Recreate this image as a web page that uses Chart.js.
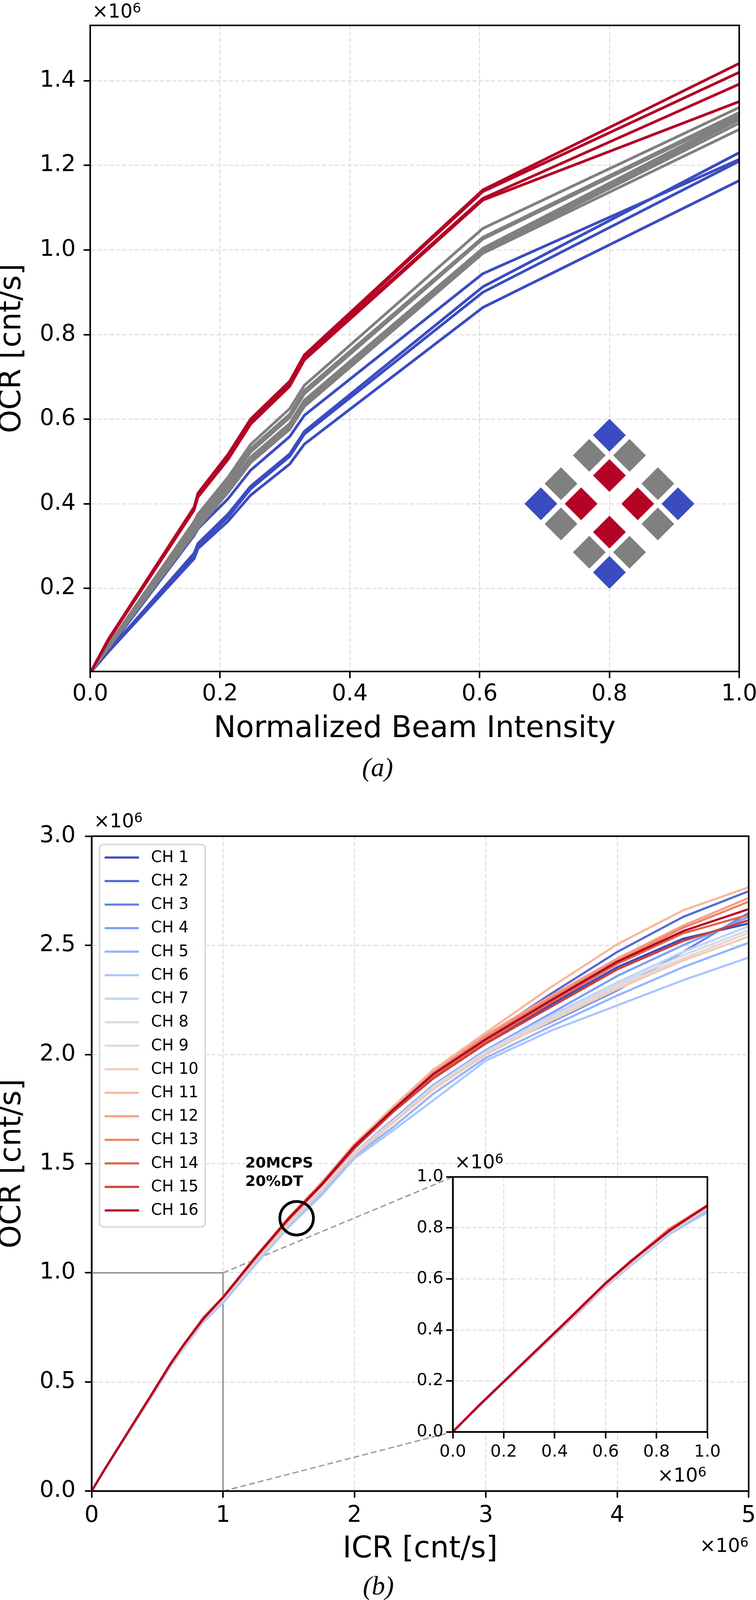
<!DOCTYPE html>
<html>
<head>
<meta charset="utf-8">
<title>OCR vs beam intensity and ICR</title>
<script src="https://cdn.jsdelivr.net/npm/chart.js@4.4.1/dist/chart.umd.min.js"></script>
<style>
  html, body { margin:0; padding:0; background:#fff; }
  body { position:relative; width:1936px; height:4100px; overflow:hidden; }
  .panel { position:absolute; }
  .panel canvas { display:block; }
  .offset { position:absolute; font-family:"DejaVu Sans"; font-size:49px; line-height:1; color:#000; white-space:nowrap; z-index:5; }
  .offset sup { font-size:0.7em; position:relative; top:-0.38em; vertical-align:baseline; line-height:0; }
  .caption { position:absolute; font-family:"Liberation Serif"; font-style:italic; font-size:68px; line-height:1; width:200px; text-align:center; color:#000; }
</style>
</head>
<body>
<div class="panel" style="left:0;top:0;"><canvas id="chartA" width="1936" height="2000"></canvas></div>
<div class="panel" style="left:0;top:2000px;"><canvas id="chartB" width="1936" height="2100"></canvas></div>
<div class="panel" style="left:1000px;top:2940px;"><canvas id="chartC" width="936" height="880"></canvas></div>

<div class="offset" style="left:236px;top:4px;">×10<sup>6</sup></div>
<div class="caption" style="left:867px;top:1930px;">(a)</div>
<div class="offset" style="left:240px;top:2077px;">×10<sup>6</sup></div>
<div class="offset" style="right:19px;top:3932px;">×10<sup>6</sup></div>
<div class="offset" style="left:1164px;top:2950px;">×10<sup>6</sup></div>
<div class="offset" style="right:127px;top:3752px;">×10<sup>6</sup></div>
<div class="caption" style="left:869px;top:4025px;">(b)</div>

<script>
// ================= DATA: panel (a) — OCR (×10^6 cnt/s) vs normalized beam intensity =================
const beamIntensity = [0, 0.028, 0.16, 0.166, 0.2125, 0.247, 0.3075, 0.33, 0.605, 1.0];
// inner (red) detector elements
const ocrInner = [
  [0, 0.080, 0.392, 0.425, 0.517, 0.600, 0.690, 0.752, 1.142, 1.441],
  [0, 0.079, 0.390, 0.422, 0.513, 0.596, 0.686, 0.748, 1.138, 1.420],
  [0, 0.078, 0.387, 0.419, 0.509, 0.592, 0.682, 0.744, 1.122, 1.392],
  [0, 0.077, 0.385, 0.416, 0.505, 0.588, 0.678, 0.740, 1.118, 1.351]
];
// edge (gray) detector elements
const ocrEdge = [
  [0, 0.066, 0.358, 0.375, 0.463, 0.540, 0.625, 0.680, 1.051, 1.337],
  [0, 0.065, 0.352, 0.368, 0.455, 0.530, 0.612, 0.668, 1.030, 1.325],
  [0, 0.064, 0.347, 0.362, 0.447, 0.522, 0.604, 0.660, 1.026, 1.320],
  [0, 0.063, 0.342, 0.356, 0.438, 0.510, 0.590, 0.645, 1.004, 1.316],
  [0, 0.062, 0.338, 0.352, 0.434, 0.506, 0.585, 0.640, 1.001, 1.312],
  [0, 0.061, 0.335, 0.349, 0.432, 0.503, 0.582, 0.637, 0.998, 1.308],
  [0, 0.060, 0.332, 0.346, 0.430, 0.500, 0.580, 0.634, 0.995, 1.300],
  [0, 0.059, 0.329, 0.343, 0.427, 0.497, 0.576, 0.630, 0.992, 1.285]
];
// corner (blue) detector elements
const ocrCorner = [
  [0, 0.056, 0.325, 0.341, 0.412, 0.479, 0.559, 0.609, 0.944, 1.214],
  [0, 0.052, 0.283, 0.306, 0.376, 0.441, 0.518, 0.571, 0.913, 1.230],
  [0, 0.051, 0.278, 0.300, 0.369, 0.435, 0.512, 0.565, 0.900, 1.210],
  [0, 0.050, 0.270, 0.294, 0.359, 0.420, 0.494, 0.541, 0.864, 1.164]
];
const xTicksA = [0, 0.2, 0.4, 0.6, 0.8, 1.0];
const xTickLabelsA = ['0.0', '0.2', '0.4', '0.6', '0.8', '1.0'];
const yTicksA = [0.2, 0.4, 0.6, 0.8, 1.0, 1.2, 1.4];
const yTickLabelsA = ['0.2', '0.4', '0.6', '0.8', '1.0', '1.2', '1.4'];
const detectorCenter = { x: 0.8, y: 0.4 };   // position of the detector-layout sketch

// ================= DATA: panel (b) — OCR vs ICR (both ×10^6 cnt/s) per channel =================
const channelLabels = ['CH 1','CH 2','CH 3','CH 4','CH 5','CH 6','CH 7','CH 8',
                       'CH 9','CH 10','CH 11','CH 12','CH 13','CH 14','CH 15','CH 16'];
const icrB = [0, 0.1, 0.2, 0.3, 0.45, 0.6, 0.7, 0.85, 1.0, 1.25, 1.5, 1.75, 2.0, 2.3, 2.6, 3.0, 3.5, 4.0, 4.5, 5.0];
const ocrCh1  = [0, 0.100, 0.196, 0.292, 0.436, 0.582, 0.668, 0.792, 0.887, 1.070, 1.245, 1.400, 1.570, 1.745, 1.905, 2.055, 2.230, 2.400, 2.530, 2.600];
const ocrCh2  = [0, 0.101, 0.197, 0.293, 0.437, 0.584, 0.670, 0.795, 0.889, 1.075, 1.250, 1.405, 1.585, 1.760, 1.930, 2.080, 2.280, 2.470, 2.630, 2.748];
const ocrCh3  = [0, 0.099, 0.194, 0.289, 0.430, 0.576, 0.660, 0.784, 0.878, 1.055, 1.225, 1.375, 1.550, 1.700, 1.850, 2.010, 2.150, 2.294, 2.470, 2.649];
const ocrCh4  = [0, 0.099, 0.194, 0.288, 0.431, 0.577, 0.661, 0.786, 0.879, 1.057, 1.227, 1.378, 1.550, 1.705, 1.860, 2.020, 2.190, 2.360, 2.500, 2.630];
const ocrCh5  = [0, 0.098, 0.193, 0.287, 0.428, 0.572, 0.656, 0.779, 0.870, 1.045, 1.215, 1.362, 1.535, 1.670, 1.820, 1.985, 2.130, 2.270, 2.400, 2.512];
const ocrCh6  = [0, 0.098, 0.192, 0.286, 0.426, 0.570, 0.653, 0.775, 0.862, 1.040, 1.210, 1.355, 1.524, 1.655, 1.790, 1.972, 2.110, 2.225, 2.340, 2.444];
const ocrCh7  = [0, 0.099, 0.194, 0.289, 0.431, 0.576, 0.661, 0.785, 0.878, 1.056, 1.226, 1.376, 1.550, 1.700, 1.855, 2.015, 2.180, 2.330, 2.470, 2.587];
const ocrCh8  = [0, 0.099, 0.194, 0.289, 0.430, 0.575, 0.660, 0.784, 0.876, 1.054, 1.224, 1.374, 1.545, 1.695, 1.850, 2.010, 2.170, 2.320, 2.455, 2.570];
const ocrCh9  = [0, 0.099, 0.194, 0.289, 0.431, 0.576, 0.661, 0.785, 0.877, 1.055, 1.225, 1.375, 1.545, 1.695, 1.845, 2.000, 2.160, 2.310, 2.440, 2.557];
const ocrCh10 = [0, 0.100, 0.195, 0.290, 0.432, 0.578, 0.663, 0.788, 0.880, 1.058, 1.230, 1.380, 1.540, 1.690, 1.840, 2.000, 2.155, 2.300, 2.430, 2.540];
const ocrCh11 = [0, 0.101, 0.197, 0.294, 0.438, 0.585, 0.672, 0.797, 0.890, 1.078, 1.255, 1.415, 1.590, 1.765, 1.930, 2.100, 2.310, 2.505, 2.660, 2.766];
const ocrCh12 = [0, 0.101, 0.197, 0.293, 0.437, 0.584, 0.671, 0.796, 0.889, 1.076, 1.252, 1.410, 1.580, 1.755, 1.920, 2.090, 2.270, 2.440, 2.590, 2.717];
const ocrCh13 = [0, 0.101, 0.197, 0.293, 0.437, 0.583, 0.670, 0.794, 0.888, 1.074, 1.250, 1.408, 1.585, 1.752, 1.915, 2.080, 2.260, 2.430, 2.580, 2.700];
const ocrCh14 = [0, 0.100, 0.196, 0.292, 0.436, 0.582, 0.669, 0.793, 0.887, 1.072, 1.248, 1.405, 1.575, 1.748, 1.900, 2.060, 2.240, 2.415, 2.555, 2.640];
const ocrCh15 = [0, 0.100, 0.196, 0.292, 0.435, 0.581, 0.668, 0.791, 0.886, 1.070, 1.245, 1.400, 1.570, 1.740, 1.890, 2.050, 2.220, 2.390, 2.520, 2.615];
const ocrCh16 = [0, 0.101, 0.197, 0.293, 0.437, 0.583, 0.670, 0.788, 0.888, 1.073, 1.250, 1.405, 1.580, 1.750, 1.910, 2.070, 2.250, 2.425, 2.565, 2.666];
const ocrChannels = [ocrCh1, ocrCh2, ocrCh3, ocrCh4, ocrCh5, ocrCh6, ocrCh7, ocrCh8,
                     ocrCh9, ocrCh10, ocrCh11, ocrCh12, ocrCh13, ocrCh14, ocrCh15, ocrCh16];
const xTicksB = [0, 1, 2, 3, 4, 5];
const xTickLabelsB = ['0', '1', '2', '3', '4', '5'];
const yTicksB = [0, 0.5, 1.0, 1.5, 2.0, 2.5, 3.0];
const yTickLabelsB = ['0.0', '0.5', '1.0', '1.5', '2.0', '2.5', '3.0'];
const insetTicks = [0, 0.2, 0.4, 0.6, 0.8, 1.0];
const insetTickLabels = ['0.0', '0.2', '0.4', '0.6', '0.8', '1.0'];
const dtMarker = { icr: 1.56, ocr: 1.25, text: ['20MCPS', '20%DT'] };

// ================= STYLE =================
const RED = '#b40426', GRAY = '#808080', BLUE = '#3b4cc0';
const channelColors = ['#3b4cc0','#4f69d9','#6485ec','#7b9ff9','#93b5fe','#aac7fd','#c0d4f5','#d4dbe6',
                       '#e5d8d1','#f2cbb7','#f7b89c','#f5a081','#ee8468','#e0654f','#cc403a','#b40426'];
const FONT = '"DejaVu Sans", sans-serif';
Chart.defaults.font.family = FONT;
Chart.defaults.color = '#000';

function makeScale(cfg) {
  const horizontal = cfg.axis === 'x';
  const s = {
    type: 'linear',
    position: horizontal ? 'bottom' : 'left',
    min: cfg.min, max: cfg.max,
    afterBuildTicks: sc => { sc.ticks = cfg.ticks.map(v => ({ value: v })); },
    afterFit: sc => {
      if (horizontal) { sc.height = cfg.size; sc.paddingLeft = 0; sc.paddingRight = 0; }
      else { sc.width = cfg.size; sc.paddingTop = 0; sc.paddingBottom = 0; }
    },
    ticks: {
      callback: (v, i) => cfg.labels[i],
      font: { size: cfg.tickFont, lineHeight: 1.2 },
      color: '#000', padding: cfg.pad, autoSkip: false, maxRotation: 0, minRotation: 0
    },
    grid: { color: '#d4d4d4', lineWidth: 2, tickLength: 17, tickWidth: 4, tickColor: '#000', drawTicks: true },
    border: { display: true, color: '#000', width: 4, dash: [11, 5] }
  };
  if (cfg.title) {
    s.title = {
      display: true, text: cfg.title, color: '#000',
      font: { size: 76, lineHeight: horizontal ? 1.2 : 0.8 },
      padding: horizontal ? { top: 0, bottom: cfg.titlePad } : { top: cfg.titlePad, bottom: 0 }
    };
  }
  return s;
}

const framePlugin = {
  id: 'frame',
  afterDatasetsDraw(chart) {
    const { ctx, chartArea: ca } = chart;
    ctx.save();
    ctx.strokeStyle = '#000'; ctx.lineWidth = 4;
    ctx.strokeRect(ca.left, ca.top, ca.right - ca.left, ca.bottom - ca.top);
    ctx.restore();
  }
};

const baseOptions = {
  responsive: false, animation: false, devicePixelRatio: 1, events: [],
  plugins: { legend: { display: false }, tooltip: { enabled: false } }
};

// ================= INSET (created first so panel (b) can connect to it) =================
const whiteAreaPlugin = {
  id: 'whiteArea',
  beforeDraw(chart) {
    const { ctx, chartArea: ca } = chart;
    ctx.save(); ctx.fillStyle = '#fff';
    ctx.fillRect(ca.left, ca.top, ca.right - ca.left, ca.bottom - ca.top);
    ctx.restore();
  }
};

function channelDatasets(width) {
  return channelLabels.map((lab, i) => ({
    label: lab,
    data: icrB.map((x, k) => ({ x: x, y: ocrChannels[i][k] })),
    borderColor: channelColors[i], backgroundColor: channelColors[i],
    borderWidth: width, pointRadius: 0, showLine: true, tension: 0,
    borderJoinStyle: 'round', borderCapStyle: 'round',
    order: channelLabels.length - 1 - i
  }));
}

window.insetChart = new Chart(document.getElementById('chartC'), {
  type: 'scatter',
  data: { datasets: channelDatasets(5.5) },
  options: Object.assign({}, baseOptions, {
    layout: { padding: { top: 73, right: 124.5, left: 0, bottom: 0 } },
    scales: {
      x: makeScale({ axis: 'x', min: 0, max: 1, ticks: insetTicks, labels: insetTickLabels, size: 154.5, tickFont: 43, pad: 10 }),
      y: makeScale({ axis: 'y', min: 0, max: 1, ticks: insetTicks, labels: insetTickLabels, size: 159.5, tickFont: 43, pad: 7 })
    }
  }),
  plugins: [whiteAreaPlugin, framePlugin]
});

// ================= PANEL (a) =================
const diamondPlugin = {
  id: 'detectorSketch',
  afterDatasetsDraw(chart) {
    const { ctx, scales: { x, y } } = chart;
    const cx = x.getPixelForValue(detectorCenter.x), cy = y.getPixelForValue(detectorCenter.y);
    const Q = 124, s = 51.5, r = 42;
    const dirs = [[0, -1], [1, 0], [0, 1], [-1, 0]];
    const dia = (px, py, col) => {
      ctx.fillStyle = col; ctx.beginPath();
      ctx.moveTo(px, py - r); ctx.lineTo(px + r, py); ctx.lineTo(px, py + r); ctx.lineTo(px - r, py);
      ctx.closePath(); ctx.fill();
    };
    ctx.save();
    dirs.forEach(([dx, dy]) => {
      const qx = cx + dx * Q, qy = cy + dy * Q;
      dia(qx + dx * s, qy + dy * s, BLUE);
      dia(qx - dx * s, qy - dy * s, RED);
      dia(qx - dy * s, qy + dx * s, GRAY);
      dia(qx + dy * s, qy - dx * s, GRAY);
    });
    ctx.restore();
  }
};

function groupDatasets(group, color) {
  return group.map(arr => ({
    data: beamIntensity.map((x, k) => ({ x: x, y: arr[k] })),
    borderColor: color, backgroundColor: color, borderWidth: 7,
    pointRadius: 0, showLine: true, tension: 0, borderJoinStyle: 'round', borderCapStyle: 'round'
  }));
}

new Chart(document.getElementById('chartA'), {
  type: 'scatter',
  data: { datasets: [].concat(groupDatasets(ocrInner, RED), groupDatasets(ocrEdge, GRAY), groupDatasets(ocrCorner, BLUE)) },
  options: Object.assign({}, baseOptions, {
    layout: { padding: { top: 65, right: 43, left: 0, bottom: 0 } },
    scales: {
      x: makeScale({ axis: 'x', min: 0, max: 1, ticks: xTicksA, labels: xTickLabelsA, size: 281, tickFont: 58, pad: 7,
                     title: 'Normalized Beam Intensity', titlePad: 87 }),
      y: makeScale({ axis: 'y', min: 0.0035, max: 1.531, ticks: yTicksA, labels: yTickLabelsA, size: 231, tickFont: 58, pad: 20,
                     title: 'OCR [cnt/s]', titlePad: 2 })
    }
  }),
  plugins: [framePlugin, diamondPlugin]
});

// ================= PANEL (b) =================
const zoomBoxPlugin = {
  id: 'zoomBox',
  beforeDatasetsDraw(chart) {
    const ins = window.insetChart; if (!ins) return;
    const { ctx, scales: { x, y } } = chart;
    const x0 = x.getPixelForValue(ins.scales.x.min), x1 = x.getPixelForValue(ins.scales.x.max);
    const y0 = y.getPixelForValue(ins.scales.y.min), y1 = y.getPixelForValue(ins.scales.y.max);
    const rb = chart.canvas.getBoundingClientRect(), ri = ins.canvas.getBoundingClientRect();
    const ox = ri.left - rb.left, oy = ri.top - rb.top, ia = ins.chartArea;
    ctx.save();
    ctx.strokeStyle = '#8c8c8c'; ctx.lineWidth = 3.5;
    ctx.beginPath(); ctx.moveTo(x0, y1); ctx.lineTo(x1, y1); ctx.lineTo(x1, y0); ctx.stroke();
    ctx.strokeStyle = '#9a9a9a'; ctx.lineWidth = 3.5; ctx.setLineDash([15, 8]);
    ctx.beginPath();
    ctx.moveTo(x1, y1); ctx.lineTo(ox + ia.left, oy + ia.top);
    ctx.moveTo(x1, y0); ctx.lineTo(ox + ia.left, oy + ia.bottom);
    ctx.stroke();
    ctx.restore();
  }
};

const markerPlugin = {
  id: 'dtMarker',
  afterDatasetsDraw(chart) {
    const { ctx, scales: { x, y } } = chart;
    const px = x.getPixelForValue(dtMarker.icr), py = y.getPixelForValue(dtMarker.ocr);
    ctx.save();
    ctx.strokeStyle = '#000'; ctx.lineWidth = 7;
    ctx.beginPath(); ctx.arc(px, py, 43, 0, Math.PI * 2); ctx.stroke();
    ctx.fillStyle = '#000'; ctx.font = 'bold 38px ' + FONT;
    ctx.textAlign = 'left'; ctx.textBaseline = 'alphabetic';
    ctx.fillText(dtMarker.text[0], px - 131.5, py - 129.7);
    ctx.fillText(dtMarker.text[1], px - 131.5, py - 83);
    ctx.restore();
  }
};

const insideLegendPlugin = {
  id: 'insideLegend',
  afterDatasetsDraw(chart) {
    const { ctx, chartArea: ca } = chart;
    const L = ca.left + 20.4, T = ca.top + 21.4, W = 270.5, H = 979, R = 10;
    ctx.save();
    ctx.beginPath();
    ctx.moveTo(L + R, T); ctx.lineTo(L + W - R, T); ctx.arcTo(L + W, T, L + W, T + R, R);
    ctx.lineTo(L + W, T + H - R); ctx.arcTo(L + W, T + H, L + W - R, T + H, R);
    ctx.lineTo(L + R, T + H); ctx.arcTo(L, T + H, L, T + H - R, R);
    ctx.lineTo(L, T + R); ctx.arcTo(L, T, L + R, T, R); ctx.closePath();
    ctx.fillStyle = 'rgba(255,255,255,0.8)'; ctx.fill();
    ctx.strokeStyle = '#d6d6d6'; ctx.lineWidth = 3.5; ctx.stroke();
    ctx.font = '40px ' + FONT; ctx.textAlign = 'left'; ctx.textBaseline = 'middle';
    chart.data.datasets.forEach((d, i) => {
      const yy = ca.top + 54.6 + i * 60.24;
      ctx.strokeStyle = d.borderColor; ctx.lineWidth = 5.5; ctx.lineCap = 'butt';
      ctx.beginPath(); ctx.moveTo(ca.left + 33.4, yy); ctx.lineTo(ca.left + 121.4, yy); ctx.stroke();
      ctx.fillStyle = '#000';
      ctx.fillText(d.label, ca.left + 152.1, yy + 1);
    });
    ctx.restore();
  }
};

new Chart(document.getElementById('chartB'), {
  type: 'scatter',
  data: { datasets: channelDatasets(5.5) },
  options: Object.assign({}, baseOptions, {
    layout: { padding: { top: 140.6, right: 18.7, left: 0, bottom: 0 } },
    scales: {
      x: makeScale({ axis: 'x', min: 0, max: 5, ticks: xTicksB, labels: xTickLabelsB, size: 282.7, tickFont: 58, pad: 12,
                     title: 'ICR [cnt/s]', titlePad: 86.7 }),
      y: makeScale({ axis: 'y', min: 0, max: 3, ticks: yTicksB, labels: yTickLabelsB, size: 234.6, tickFont: 58, pad: 24,
                     title: 'OCR [cnt/s]', titlePad: 2 })
    }
  }),
  plugins: [zoomBoxPlugin, framePlugin, markerPlugin, insideLegendPlugin]
});
</script>
</body>
</html>
